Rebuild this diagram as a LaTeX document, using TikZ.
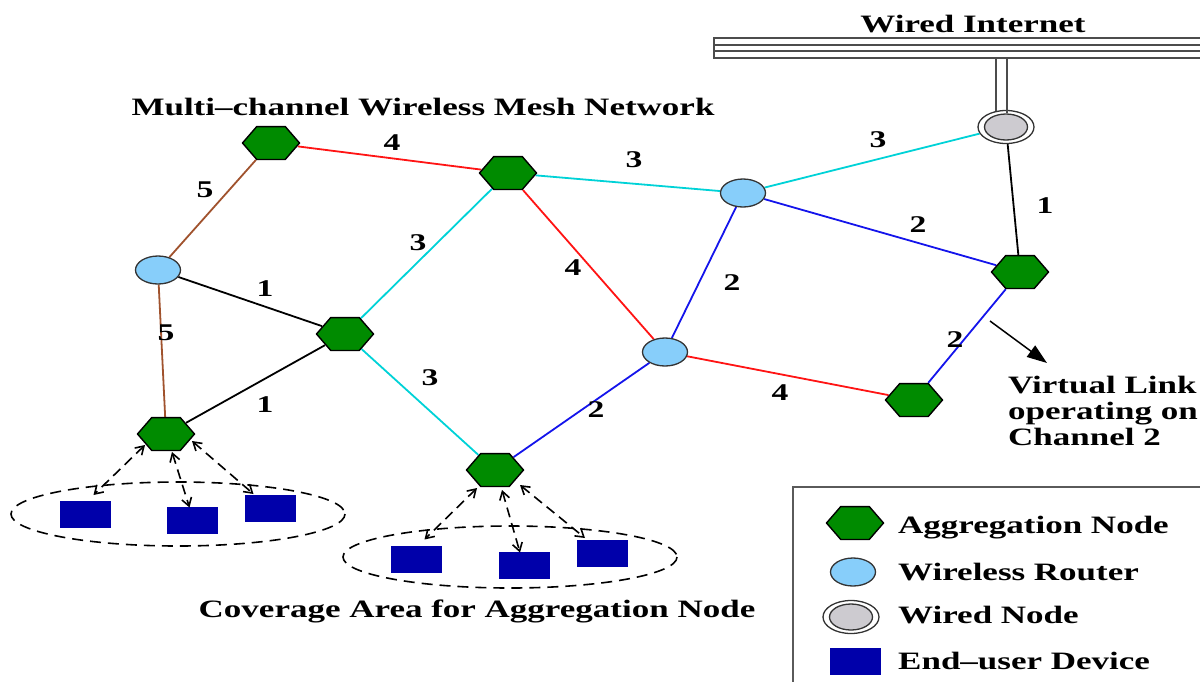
\documentclass[tikz,border=0pt]{standalone}
\usepackage{fontspec}
\setmainfont[FakeStretch=1.4]{Liberation Serif}
\usetikzlibrary{shapes.geometric,arrows.meta,backgrounds}

\definecolor{aggGreen}{RGB}{0,139,0}
\definecolor{routerBlue}{RGB}{135,206,250}
\definecolor{wiredGray}{RGB}{205,203,208}
\definecolor{devBlue}{RGB}{0,0,170}
\definecolor{chCyan}{RGB}{0,210,215}
\definecolor{chBlue}{RGB}{20,20,235}
\definecolor{chRed}{RGB}{255,20,20}
\definecolor{chBrown}{RGB}{160,82,45}
\definecolor{frameGray}{RGB}{90,90,90}

\begin{document}
\begin{tikzpicture}[x=1pt,y=-1pt,
  font=\fontsize{25}{26.5}\selectfont\bfseries,
  agg/.style={regular polygon, regular polygon sides=6, minimum size=38pt,
    inner sep=0pt, xscale=1.5, fill=aggGreen, draw=black, line width=1.4pt},
  router/.style={ellipse, minimum width=45pt, minimum height=28pt, inner sep=0pt,
    fill=routerBlue, draw=black!80, line width=1.3pt},
  wiredouter/.style={ellipse, minimum width=56pt, minimum height=33pt, inner sep=0pt,
    fill=white, draw=black!80, line width=1.3pt},
  wiredinner/.style={ellipse, minimum width=43pt, minimum height=26pt, inner sep=0pt,
    fill=wiredGray, draw=black!80, line width=1.3pt},
  device/.style={rectangle, minimum width=51pt, minimum height=27pt, inner sep=0pt,
    fill=devBlue},
  wire/.style={line width=1.8pt},
  ch/.style={font=\fontsize{24}{24}\selectfont\bfseries, inner sep=0pt},
  txt/.style={inner sep=0pt},
  link/.style={line width=1.6pt, dash pattern=on 10pt off 6pt,
    {Straight Barb[length=8pt,width=10pt,line width=1.6pt]}-{Straight Barb[length=8pt,width=10pt,line width=1.6pt]}},
  cover/.style={line width=1.6pt, dash pattern=on 11pt off 7pt},
  pipe/.style={draw=black!70, line width=1.3pt}
]
\useasboundingbox (0,0) rectangle (1200,681);

% ---- wired backbone ----
\draw[pipe] (1201,38) -- (714,38) -- (714,58) -- (1201,58);
\draw[pipe] (714,45) -- (1201,45);
\draw[pipe] (714,51) -- (1201,51);
\node[txt, anchor=base] (tWired) at (973,32) {Wired Internet};

% ---- nodes ----
\node[wiredouter] (W) at (1006,127) {};
\node[wiredinner] (Win) at (1006,127) {};
\draw[pipe] (996,58) -- (996,111);
\draw[pipe] (1007,58) -- (1007,113);

\node[agg] (A1) at (271,143) {};
\node[agg] (A2) at (508,173) {};
\node[agg] (A3) at (345,334) {};
\node[agg] (A4) at (166,434) {};
\node[agg] (A5) at (495,470) {};
\node[agg] (A6) at (1020,272) {};
\node[agg] (A7) at (914,400) {};

\node[router] (R1) at (158,270) {};
\node[router] (R2) at (743,193) {};
\node[router] (R3) at (665,352) {};

% ---- mesh links (channel numbers) ----
\begin{scope}[on background layer]
  \draw[wire, chRed]   (A1) -- (A2);
  \draw[wire, chBrown] (A1) -- (R1);
  \draw[wire, chBrown] (R1) -- (A4);
  \draw[wire, black]   (R1) -- (A3);
  \draw[wire, black]   (A3) -- (A4);
  \draw[wire, chCyan]  (A3) -- (A2);
  \draw[wire, chCyan]  (A3) -- (A5);
  \draw[wire, chCyan]  (A2) -- (R2);
  \draw[wire, chRed]   (A2) -- (R3);
  \draw[wire, chCyan]  (R2) -- (W);
  \draw[wire, chBlue]  (R2) -- (A6);
  \draw[wire, chBlue]  (R2) -- (R3);
  \draw[wire, chBlue]  (R3) -- (A5);
  \draw[wire, chRed]   (R3) -- (A7);
  \draw[wire, black]   (W) -- (A6);
  \draw[wire, chBlue]  (A6) -- (A7);
\end{scope}

\node[ch] (c1)  at (392,143) {4};
\node[ch] (c2)  at (205,190) {5};
\node[ch] (c3)  at (166,333) {5};
\node[ch] (c4)  at (265,289) {1};
\node[ch] (c5)  at (265,405) {1};
\node[ch] (c6)  at (418,243) {3};
\node[ch] (c7)  at (430,378) {3};
\node[ch] (c8)  at (634,160) {3};
\node[ch] (c9)  at (573,268) {4};
\node[ch] (c10) at (878,140) {3};
\node[ch] (c11) at (918,225) {2};
\node[ch] (c12) at (732,283) {2};
\node[ch] (c13) at (596,410) {2};
\node[ch] (c14) at (780,393) {4};
\node[ch] (c15) at (1045,206) {1};
\node[ch] (c16) at (955,340) {2};

\node[txt, anchor=base] (tMesh) at (423,115) {Multi--channel Wireless Mesh Network};

% ---- virtual link callout ----
\coordinate (vs) at (990,321);
\coordinate (ve) at (1047,363);
\draw[line width=1.5pt, -{Triangle[length=20pt,width=14pt]}] (vs) -- (ve);
\node[txt, anchor=base west] (v1) at (1008,393) {Virtual Link};
\node[txt, anchor=base west] (v2) at (1008,419) {operating on};
\node[txt, anchor=base west] (v3) at (1008,445) {Channel 2};

% ---- coverage areas ----
\node[device] (d11) at (85.5,514) {};
\node[device] (d12) at (192.5,520.5) {};
\node[device] (d13) at (270.5,508) {};
\node[device] (d21) at (416.5,559.5) {};
\node[device] (d22) at (524,565.5) {};
\node[device] (d23) at (602,553) {};

\draw[cover] (178,514) ellipse [x radius=167, y radius=32];
\draw[cover] (510,557) ellipse [x radius=167, y radius=31];

\draw[link] ([shift={(-21,11)}]A4.center) -- ([shift={(8,-19)}]d11.center);
\draw[link] ([shift={(6,18)}]A4.center) -- ([shift={(-3,-13)}]d12.center);
\draw[link] ([shift={(26,7)}]A4.center) -- ([shift={(-17,-14)}]d13.center);
\draw[link] ([shift={(-18,18)}]A5.center) -- ([shift={(8,-20)}]d21.center);
\draw[link] ([shift={(7,20)}]A5.center) -- ([shift={(-4,-13)}]d22.center);
\draw[link] ([shift={(25,15)}]A5.center) -- ([shift={(-17,-15)}]d23.center);

\node[txt, anchor=base] (tCov) at (477,617) {Coverage Area for Aggregation Node};

% ---- legend ----
\draw[draw=frameGray, line width=1.5pt] (1201,487) -- (793,487) -- (793,682);
\node[agg] (LA) at (855,523) {};
\node[router] (LR) at (853,572) {};
\node[wiredouter] (LW) at (851,617) {};
\node[wiredinner] (LWin) at (851,617) {};
\node[device] (LD) at (855.5,661.5) {};
\node[txt, anchor=base west] (tLA) at (898,533) {Aggregation Node};
\node[txt, anchor=base west] (tLR) at (898,580) {Wireless Router};
\node[txt, anchor=base west] (tLW) at (898,623) {Wired Node};
\node[txt, anchor=base west] (tLD) at (898,669) {End--user Device};
\end{tikzpicture}
\end{document}
